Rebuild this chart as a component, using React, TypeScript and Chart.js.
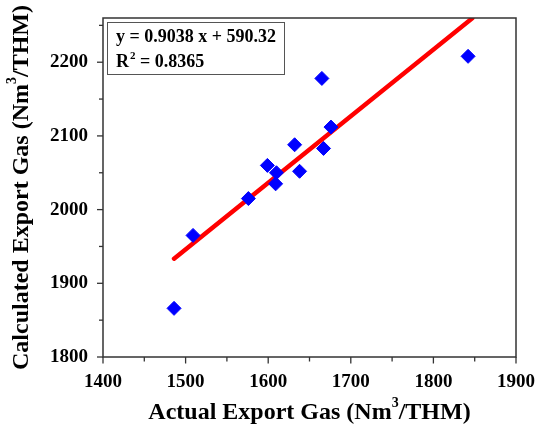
import React, { useEffect, useRef } from "react";
import { Chart, registerables } from "chart.js";

Chart.register(...registerables);

const actualGas = [1486, 1509, 1576, 1599, 1610, 1609, 1632, 1638, 1665, 1667, 1676, 1842];
const calculatedGas = [1866, 1965, 2015, 2060, 2050, 2035, 2088, 2052, 2178, 2083, 2112, 2208];
const fitX = [1486, 1847];
const fitY = [1933.4, 2259.6];
const xTicks = [1400, 1500, 1600, 1700, 1800, 1900];
const yTicks = [1800, 1900, 2000, 2100, 2200];
const equationText = "y = 0.9038 x + 590.32";
const r2Text = "0.8365";
const xTitle = ["Actual Export Gas (Nm", "3", "/THM)"];
const yTitle = ["Calculated Export Gas (Nm", "3", "/THM)"];

const SERIF = "'Liberation Serif', 'Times New Roman', serif";

function drawSupText(ctx: CanvasRenderingContext2D, parts: string[], size: number, cx: number, cy: number) {
  const big = `bold ${size}px ${SERIF}`;
  const small = `bold ${Math.round(size * 0.6)}px ${SERIF}`;
  ctx.font = big;
  const w0 = ctx.measureText(parts[0]).width;
  const w2 = ctx.measureText(parts[2]).width;
  ctx.font = small;
  const w1 = ctx.measureText(parts[1]).width;
  const total = w0 + w1 + w2;
  let x = cx - total / 2;
  ctx.textBaseline = "middle";
  ctx.textAlign = "left";
  ctx.font = big;
  ctx.fillText(parts[0], x, cy);
  x += w0;
  ctx.font = small;
  ctx.fillText(parts[1], x, cy - size * 0.38);
  x += w1;
  ctx.font = big;
  ctx.fillText(parts[2], x, cy);
}

const decorPlugin = {
  id: "decor",
  afterDraw(chart: any) {
    const ctx = chart.ctx as CanvasRenderingContext2D;
    const { left, right, top, bottom } = chart.chartArea;
    const xs = chart.scales.x;
    const ys = chart.scales.y;
    ctx.save();
    ctx.strokeStyle = "#333333";
    ctx.lineWidth = 1.5;
    ctx.strokeRect(left, top, right - left, bottom - top);
    ctx.lineWidth = 1.3;
    for (let v = xs.min; v <= xs.max + 0.01; v += 50) {
      const px = xs.getPixelForValue(v);
      const len = v % 100 === 0 ? 6.5 : 4.5;
      ctx.beginPath();
      ctx.moveTo(px, bottom);
      ctx.lineTo(px, bottom + len);
      ctx.stroke();
    }
    for (let v = ys.min; v <= ys.max + 0.01; v += 50) {
      const py = ys.getPixelForValue(v);
      const len = v % 100 === 0 ? 6 : 4;
      ctx.beginPath();
      ctx.moveTo(left, py);
      ctx.lineTo(left - len, py);
      ctx.stroke();
    }
    ctx.fillStyle = "#ffffff";
    ctx.strokeStyle = "#555555";
    ctx.lineWidth = 1;
    ctx.fillRect(107, 22, 177, 52);
    ctx.strokeRect(107.5, 22.5, 177, 52);
    ctx.fillStyle = "#000000";
    ctx.textAlign = "left";
    ctx.textBaseline = "alphabetic";
    ctx.font = `bold 18px ${SERIF}`;
    ctx.fillText(equationText, 116, 42);
    ctx.fillText("R", 116, 67);
    const rw = ctx.measureText("R").width;
    ctx.font = `bold 11px ${SERIF}`;
    ctx.fillText("2", 116 + rw + 1, 59);
    const sw = ctx.measureText("2").width;
    ctx.font = `bold 18px ${SERIF}`;
    ctx.fillText(" = " + r2Text, 116 + rw + 1 + sw, 67);
    ctx.fillStyle = "#000000";
    drawSupText(ctx, xTitle, 24, (left + right) / 2, 413);
    ctx.translate(22, (top + bottom) / 2);
    ctx.rotate(-Math.PI / 2);
    drawSupText(ctx, yTitle, 24, 0, 0);
    ctx.restore();
  },
};

export default function App() {
  const ref = useRef<HTMLCanvasElement | null>(null);
  useEffect(() => {
    if (!ref.current) return;
    const chart = new Chart(ref.current, {
      type: "scatter",
      data: {
        datasets: [
          {
            type: "line",
            data: fitX.map((x, i) => ({ x, y: fitY[i] })),
            borderColor: "#ff0000",
            borderWidth: 4.5,
            borderCapStyle: "round",
            pointRadius: 0,
            fill: false,
            order: 2,
          } as any,
          {
            data: actualGas.map((x, i) => ({ x, y: calculatedGas[i] })),
            backgroundColor: "#0000ff",
            borderColor: "#0000ff",
            pointStyle: "rectRot",
            pointRadius: 7,
            pointHoverRadius: 7,
            order: 1,
          },
        ],
      },
      options: {
        animation: false,
        responsive: false,
        maintainAspectRatio: false,
        layout: { padding: { left: 0, top: 18, right: 20, bottom: 0 } },
        plugins: { legend: { display: false }, tooltip: { enabled: false } },
        scales: {
          x: {
            type: "linear",
            min: 1400,
            max: 1900,
            afterFit: (s: any) => { s.height = 76; s.paddingLeft = 0; s.paddingRight = 0; },
            afterBuildTicks: (s: any) => { s.ticks = xTicks.map((v) => ({ value: v })); },
            grid: { display: false, drawTicks: false },
            border: { display: false },
            ticks: {
              padding: 14,
              color: "#000",
              font: { family: SERIF, size: 19, weight: "bold" },
              maxRotation: 0,
              callback: (v: any) => String(v),
            },
          },
          y: {
            type: "linear",
            min: 1800,
            max: 2260,
            afterFit: (s: any) => { s.width = 103; s.paddingTop = 0; s.paddingBottom = 0; },
            afterBuildTicks: (s: any) => { s.ticks = yTicks.map((v) => ({ value: v })); },
            grid: { display: false, drawTicks: false },
            border: { display: false },
            ticks: {
              padding: 15,
              color: "#000",
              font: { family: SERIF, size: 19, weight: "bold" },
              callback: (v: any) => String(v),
            },
          },
        },
      },
      plugins: [decorPlugin],
    });
    return () => chart.destroy();
  }, []);
  return (
    <div style={{ position: "absolute", left: 0, top: 0, width: 536, height: 433, background: "#fff" }}>
      <canvas ref={ref} width={536} height={433} style={{ width: 536, height: 433 }} />
    </div>
  );
}
